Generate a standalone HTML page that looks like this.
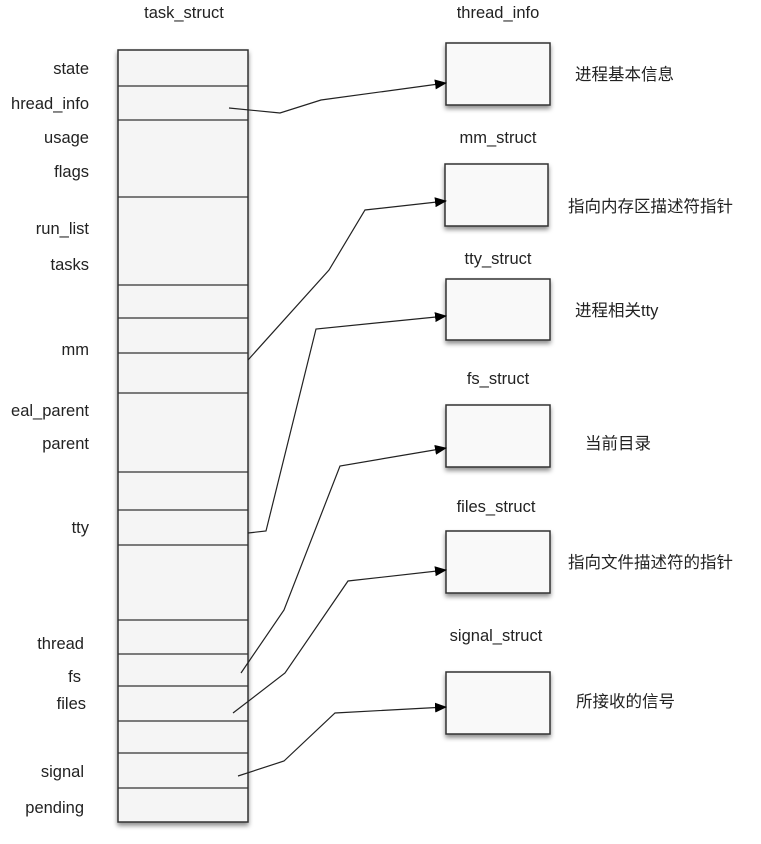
<!DOCTYPE html>
<html><head><meta charset="utf-8"><style>
html,body{margin:0;padding:0;background:#fff;}
svg text{font-family:"Liberation Sans","Noto Sans CJK SC",sans-serif;font-size:16.5px;fill:#222;}
</style></head><body>
<svg width="761" height="839" viewBox="0 0 761 839" xmlns="http://www.w3.org/2000/svg">
<defs>
<filter id="sh" x="-10%" y="-10%" width="130%" height="130%"><feDropShadow dx="0" dy="3" stdDeviation="2.5" flood-color="#000" flood-opacity="0.45"/></filter>
<marker id="ar" markerWidth="12" markerHeight="10" refX="11" refY="5" orient="auto" markerUnits="userSpaceOnUse"><path d="M0,0 L12,5 L0,10 z" fill="#000"/></marker>
</defs>
<text x="184" y="18" text-anchor="middle">task_struct</text>
<rect x="118" y="50" width="130" height="772" fill="#f5f5f5" stroke="#333" stroke-width="1.5" filter="url(#sh)"/>
<g stroke="#333" stroke-width="1.2">
<line x1="118" x2="248" y1="86" y2="86"/><line x1="118" x2="248" y1="120" y2="120"/>
<line x1="118" x2="248" y1="197" y2="197"/><line x1="118" x2="248" y1="285" y2="285"/>
<line x1="118" x2="248" y1="318" y2="318"/><line x1="118" x2="248" y1="353" y2="353"/>
<line x1="118" x2="248" y1="393" y2="393"/><line x1="118" x2="248" y1="472" y2="472"/>
<line x1="118" x2="248" y1="510" y2="510"/><line x1="118" x2="248" y1="545" y2="545"/>
<line x1="118" x2="248" y1="620" y2="620"/><line x1="118" x2="248" y1="654" y2="654"/>
<line x1="118" x2="248" y1="686" y2="686"/><line x1="118" x2="248" y1="721" y2="721"/>
<line x1="118" x2="248" y1="753" y2="753"/><line x1="118" x2="248" y1="788" y2="788"/>
</g>
<g text-anchor="end">
<text x="89" y="74">state</text><text x="89" y="109">hread_info</text>
<text x="89" y="143">usage</text><text x="89" y="177">flags</text>
<text x="89" y="234">run_list</text><text x="89" y="270">tasks</text>
<text x="89" y="355">mm</text><text x="89" y="416">eal_parent</text>
<text x="89" y="449">parent</text><text x="89" y="533">tty</text>
<text x="84" y="649">thread</text><text x="81" y="682">fs</text>
<text x="86" y="709">files</text><text x="84" y="777">signal</text>
<text x="84" y="813">pending</text>
</g>
<g fill="#f9f9f9" stroke="#333" stroke-width="1.5" filter="url(#sh)">
<rect x="446" y="43" width="104" height="62"/>
<rect x="445" y="164" width="103" height="62"/>
<rect x="446" y="279" width="104" height="61"/>
<rect x="446" y="405" width="104" height="62"/>
<rect x="446" y="531" width="104" height="62"/>
<rect x="446" y="672" width="104" height="62"/>
</g>
<g text-anchor="middle">
<text x="498" y="18">thread_info</text><text x="498" y="143">mm_struct</text>
<text x="498" y="264">tty_struct</text><text x="498" y="384">fs_struct</text>
<text x="496" y="512">files_struct</text><text x="496" y="641">signal_struct</text>
</g>
<text x="575" y="80">进程基本信息</text>
<text x="568" y="212">指向内存区描述符指针</text>
<text x="575" y="316">进程相关tty</text>
<text x="585" y="449">当前目录</text>
<text x="568" y="568">指向文件描述符的指针</text>
<text x="576" y="707">所接收的信号</text>
<g fill="none" stroke="#222" stroke-width="1.2" marker-end="url(#ar)">
<polyline points="229,108 280,113 321,100 446,83"/>
<polyline points="248,360 329,270 365,210 446,201"/>
<polyline points="248,533 266,531 316,329 446,316"/>
<polyline points="241,673 284,610 340,466 446,448"/>
<polyline points="233,713 285,673 348,581 446,570"/>
<polyline points="238,776 284,761 335,713 446,707"/>
</g>
</svg>
</body></html>
